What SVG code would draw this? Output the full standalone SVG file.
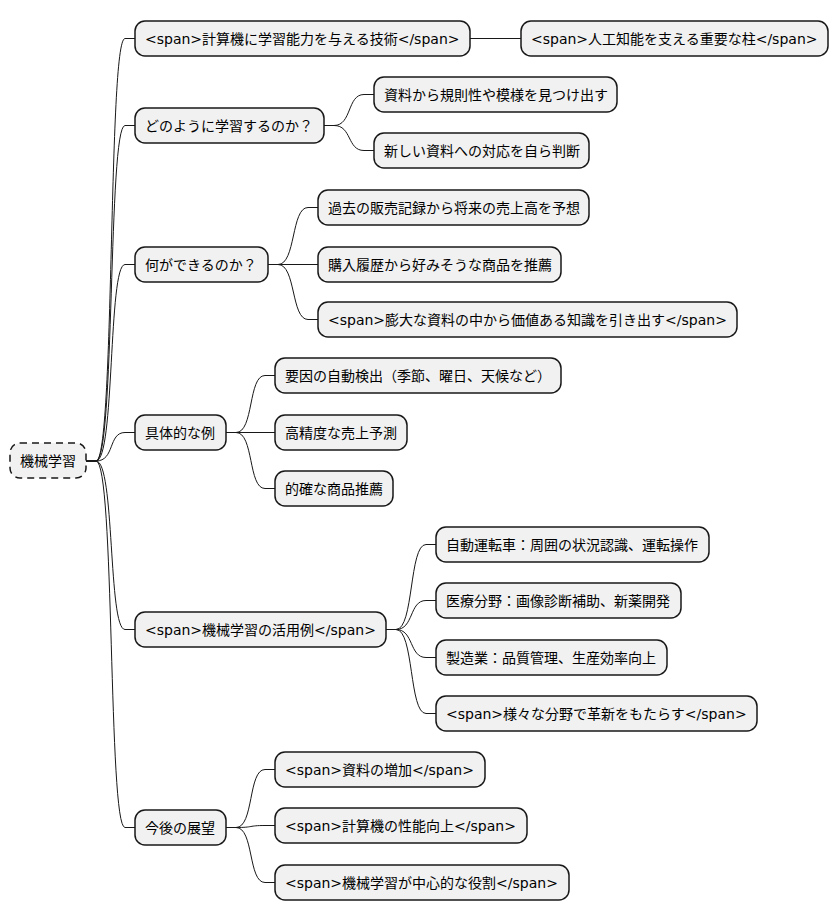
<svg xmlns="http://www.w3.org/2000/svg" width="838" height="921" viewBox="0 0 838 921">
<style>
rect{fill:#f1f1f1;stroke:#181818;stroke-width:1.5}
text{font-family:"DejaVu Sans","Noto Sans CJK JP",sans-serif;font-size:14px;fill:#000}
#connectors path{fill:none;stroke:#181818;stroke-width:1}
</style>
<rect width="838" height="921" style="fill:#fff;stroke:none"/>
<g id="connectors">
<path d="M86,461 L96,461 C115,461 108,38.5 125,38.5 L135,38.5"/>
<path d="M86,461 L96,461 C115,461 108,125.5 125,125.5 L135,125.5"/>
<path d="M86,461 L96,461 C115,461 108,264.5 125,264.5 L135,264.5"/>
<path d="M86,461 L96,461 C115,461 108,432.5 125,432.5 L135,432.5"/>
<path d="M86,461 L96,461 C115,461 108,629.5 125,629.5 L135,629.5"/>
<path d="M86,461 L96,461 C115,461 108,827.5 125,827.5 L135,827.5"/>
<path d="M470,38.5 L521,38.5"/>
<path d="M324,125.5 L334,125.5 C352,125.5 347,94.5 364,94.5 L374,94.5"/>
<path d="M324,125.5 L334,125.5 C352,125.5 347,150.5 364,150.5 L374,150.5"/>
<path d="M268,264.5 L278,264.5 C296,264.5 291,207.5 308,207.5 L318,207.5"/>
<path d="M268,264.5 L318,264.5"/>
<path d="M268,264.5 L278,264.5 C296,264.5 291,319.5 308,319.5 L318,319.5"/>
<path d="M226,432.5 L236,432.5 C254,432.5 248,375.5 265,375.5 L275,375.5"/>
<path d="M226,432.5 L275,432.5"/>
<path d="M226,432.5 L236,432.5 C254,432.5 248,488.5 265,488.5 L275,488.5"/>
<path d="M386,629.5 L396,629.5 C414,629.5 409,544.5 426,544.5 L436,544.5"/>
<path d="M386,629.5 L396,629.5 C414,629.5 409,600.5 426,600.5 L436,600.5"/>
<path d="M386,629.5 L396,629.5 C414,629.5 409,657.5 426,657.5 L436,657.5"/>
<path d="M386,629.5 L396,629.5 C414,629.5 409,713.5 426,713.5 L436,713.5"/>
<path d="M226,827.5 L236,827.5 C254,827.5 248,769.5 265,769.5 L275,769.5"/>
<path d="M226,827.5 L236,827.5 C254,827.5 248,825.5 265,825.5 L275,825.5"/>
<path d="M226,827.5 L236,827.5 C254,827.5 248,882.5 265,882.5 L275,882.5"/>
</g>
<g id="root"><rect x="10" y="443" width="76" height="35" rx="10" style="stroke-dasharray:7,5"/><text x="20" y="466">機械学習</text></g>
<g id="n1"><rect x="135" y="21" width="335" height="35" rx="10"/><text x="145" y="44">&lt;span&gt;計算機に学習能力を与える技術&lt;/span&gt;</text></g>
<g id="n1a"><rect x="521" y="21" width="307" height="35" rx="10"/><text x="531" y="44">&lt;span&gt;人工知能を支える重要な柱&lt;/span&gt;</text></g>
<g id="n2"><rect x="135" y="108" width="189" height="35" rx="10"/><text x="145" y="131">どのように学習するのか？</text></g>
<g id="n2a"><rect x="374" y="77" width="243" height="35" rx="10"/><text x="384" y="100">資料から規則性や模様を見つけ出す</text></g>
<g id="n2b"><rect x="374" y="133" width="215" height="35" rx="10"/><text x="384" y="156">新しい資料への対応を自ら判断</text></g>
<g id="n3"><rect x="135" y="247" width="133" height="35" rx="10"/><text x="145" y="270">何ができるのか？</text></g>
<g id="n3a"><rect x="318" y="190" width="271" height="35" rx="10"/><text x="328" y="213">過去の販売記録から将来の売上高を予想</text></g>
<g id="n3b"><rect x="318" y="247" width="243" height="35" rx="10"/><text x="328" y="270">購入履歴から好みそうな商品を推薦</text></g>
<g id="n3c"><rect x="318" y="302" width="419" height="35" rx="10"/><text x="328" y="325">&lt;span&gt;膨大な資料の中から価値ある知識を引き出す&lt;/span&gt;</text></g>
<g id="n4"><rect x="135" y="415" width="91" height="35" rx="10"/><text x="145" y="438">具体的な例</text></g>
<g id="n4a"><rect x="275" y="358" width="286" height="35" rx="10"/><text x="285" y="381">要因の自動検出（季節、曜日、天候など）</text></g>
<g id="n4b"><rect x="275" y="415" width="132" height="35" rx="10"/><text x="285" y="438">高精度な売上予測</text></g>
<g id="n4c"><rect x="275" y="471" width="118" height="35" rx="10"/><text x="285" y="494">的確な商品推薦</text></g>
<g id="n5"><rect x="135" y="612" width="251" height="35" rx="10"/><text x="145" y="635">&lt;span&gt;機械学習の活用例&lt;/span&gt;</text></g>
<g id="n5a"><rect x="436" y="527" width="273" height="35" rx="10"/><text x="446" y="550">自動運転車：周囲の状況認識、運転操作</text></g>
<g id="n5b"><rect x="436" y="583" width="245" height="35" rx="10"/><text x="446" y="606">医療分野：画像診断補助、新薬開発</text></g>
<g id="n5c"><rect x="436" y="640" width="231" height="35" rx="10"/><text x="446" y="663">製造業：品質管理、生産効率向上</text></g>
<g id="n5d"><rect x="436" y="696" width="321" height="35" rx="10"/><text x="446" y="719">&lt;span&gt;様々な分野で革新をもたらす&lt;/span&gt;</text></g>
<g id="n6"><rect x="135" y="810" width="91" height="35" rx="10"/><text x="145" y="833">今後の展望</text></g>
<g id="n6a"><rect x="275" y="752" width="210" height="35" rx="10"/><text x="285" y="775">&lt;span&gt;資料の増加&lt;/span&gt;</text></g>
<g id="n6b"><rect x="275" y="808" width="252" height="35" rx="10"/><text x="285" y="831">&lt;span&gt;計算機の性能向上&lt;/span&gt;</text></g>
<g id="n6c"><rect x="275" y="865" width="294" height="35" rx="10"/><text x="285" y="888">&lt;span&gt;機械学習が中心的な役割&lt;/span&gt;</text></g>
</svg>
